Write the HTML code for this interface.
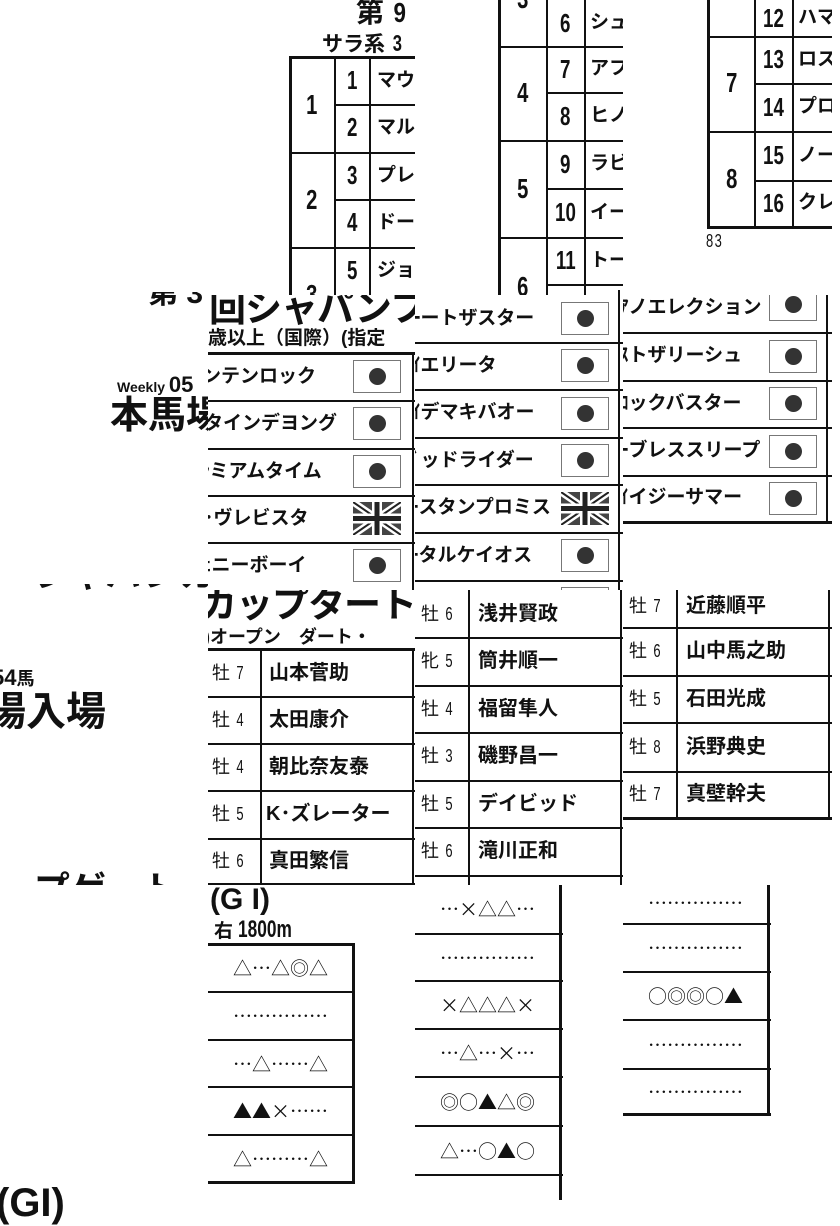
<!DOCTYPE html>
<html><head><meta charset="utf-8">
<style>
*{margin:0;padding:0;box-sizing:border-box}
body{width:840px;height:1200px;background:#fff;position:relative;overflow:hidden;font-family:"Liberation Sans","Noto Sans CJK JP",sans-serif;color:#111}
.t{position:absolute;overflow:hidden}
.h{position:absolute;height:2px;background:#111}
.v{position:absolute;width:2px;background:#111}
.x{position:absolute;font-weight:bold;white-space:nowrap}
.n{position:absolute;font-weight:bold;text-align:center;white-space:nowrap}
.n span,.x span.c{display:inline-block;transform:scaleX(.72)}
.fj{position:absolute;width:48px;height:33px;border:1px solid #777;background:#fff}
.fj::after{content:"";position:absolute;left:15px;top:7px;width:17px;height:17px;border-radius:50%;background:#333}
.m{position:absolute;left:0;width:145px;text-align:center;font-size:19px;letter-spacing:0;white-space:nowrap;font-family:"Noto Sans CJK JP",sans-serif}
</style></head><body>

<!-- T1 -->
<div class="t" style="left:280px;top:0;width:135px;height:295px">
 <div class="x" style="left:76px;top:-4px;font-size:28px;line-height:34px">第 <span class="c" style="transform:scaleX(.8)">9</span></div>
 <div class="x" style="left:42px;top:30px;font-size:21px;line-height:26px">サラ系 <span class="c" style="font-size:23px">3</span></div>
 <div class="v" style="left:9px;top:57px;height:240px;width:3px"></div>
 <div class="v" style="left:54px;top:57px;height:240px"></div>
 <div class="v" style="left:89px;top:57px;height:240px"></div>
 <div class="h" style="left:9px;top:56px;width:130px;height:3px"></div>
 <div class="h" style="left:54px;top:104px;width:90px"></div>
 <div class="h" style="left:9px;top:152px;width:130px"></div>
 <div class="h" style="left:54px;top:199px;width:90px"></div>
 <div class="h" style="left:9px;top:247px;width:130px"></div>
 <div class="n" style="left:10px;width:44px;top:90px;font-size:28px;line-height:30px"><span>1</span></div>
 <div class="n" style="left:10px;width:44px;top:185px;font-size:28px;line-height:30px"><span>2</span></div>
 <div class="n" style="left:10px;width:44px;top:280px;font-size:28px;line-height:30px"><span>3</span></div>
 <div class="n" style="left:55px;width:34px;top:57px;font-size:26px;line-height:47px"><span>1</span></div>
 <div class="n" style="left:55px;width:34px;top:104px;font-size:26px;line-height:47px"><span>2</span></div>
 <div class="n" style="left:55px;width:34px;top:152px;font-size:26px;line-height:47px"><span>3</span></div>
 <div class="n" style="left:55px;width:34px;top:199px;font-size:26px;line-height:47px"><span>4</span></div>
 <div class="n" style="left:55px;width:34px;top:247px;font-size:26px;line-height:47px"><span>5</span></div>
 <div class="x" style="left:97px;top:57px;font-size:19px;line-height:47px">マウ</div>
 <div class="x" style="left:97px;top:104px;font-size:19px;line-height:47px">マル</div>
 <div class="x" style="left:97px;top:152px;font-size:19px;line-height:47px">プレ</div>
 <div class="x" style="left:97px;top:199px;font-size:19px;line-height:47px">ドー</div>
 <div class="x" style="left:97px;top:247px;font-size:19px;line-height:47px">ジョ</div>
</div>

<!-- T2 -->
<div class="t" style="left:490px;top:0;width:133px;height:295px">
 <div class="v" style="left:8px;top:0;height:295px;width:3px"></div>
 <div class="v" style="left:56px;top:0;height:295px"></div>
 <div class="v" style="left:94px;top:0;height:295px"></div>
 <div class="h" style="left:8px;top:46px;width:130px"></div>
 <div class="h" style="left:56px;top:92px;width:80px"></div>
 <div class="h" style="left:8px;top:140px;width:130px"></div>
 <div class="h" style="left:56px;top:188px;width:80px"></div>
 <div class="h" style="left:8px;top:237px;width:130px"></div>
 <div class="h" style="left:56px;top:284px;width:80px"></div>
 <div class="n" style="left:10px;width:46px;top:-16px;font-size:28px;line-height:30px"><span>3</span></div>
 <div class="n" style="left:10px;width:46px;top:78px;font-size:28px;line-height:30px"><span>4</span></div>
 <div class="n" style="left:10px;width:46px;top:174px;font-size:28px;line-height:30px"><span>5</span></div>
 <div class="n" style="left:10px;width:46px;top:272px;font-size:28px;line-height:30px"><span>6</span></div>
 <div class="n" style="left:57px;width:37px;top:0;font-size:26px;line-height:46px"><span>6</span></div>
 <div class="n" style="left:57px;width:37px;top:46px;font-size:26px;line-height:46px"><span>7</span></div>
 <div class="n" style="left:57px;width:37px;top:92px;font-size:26px;line-height:48px"><span>8</span></div>
 <div class="n" style="left:57px;width:37px;top:140px;font-size:26px;line-height:48px"><span>9</span></div>
 <div class="n" style="left:57px;width:37px;top:188px;font-size:26px;line-height:49px"><span>10</span></div>
 <div class="n" style="left:57px;width:37px;top:237px;font-size:26px;line-height:47px"><span>11</span></div>
 <div class="x" style="left:100px;top:0;font-size:19px;line-height:46px">シュ</div>
 <div class="x" style="left:100px;top:46px;font-size:19px;line-height:46px">アフ</div>
 <div class="x" style="left:100px;top:92px;font-size:19px;line-height:48px">ヒノ</div>
 <div class="x" style="left:100px;top:140px;font-size:19px;line-height:48px">ラビ</div>
 <div class="x" style="left:100px;top:188px;font-size:19px;line-height:49px">イー</div>
 <div class="x" style="left:100px;top:237px;font-size:19px;line-height:47px">トー</div>
</div>

<!-- T3 -->
<div class="t" style="left:700px;top:0;width:132px;height:260px">
 <div class="v" style="left:7px;top:0;height:229px;width:3px"></div>
 <div class="v" style="left:54px;top:0;height:229px"></div>
 <div class="v" style="left:92px;top:0;height:229px"></div>
 <div class="h" style="left:7px;top:36px;width:130px"></div>
 <div class="h" style="left:54px;top:83px;width:80px"></div>
 <div class="h" style="left:7px;top:131px;width:130px"></div>
 <div class="h" style="left:54px;top:180px;width:80px"></div>
 <div class="h" style="left:7px;top:226px;width:130px;height:3px"></div>
 <div class="n" style="left:10px;width:44px;top:68px;font-size:28px;line-height:30px"><span>7</span></div>
 <div class="n" style="left:10px;width:44px;top:164px;font-size:28px;line-height:30px"><span>8</span></div>
 <div class="n" style="left:55px;width:37px;top:0;font-size:26px;line-height:36px"><span>12</span></div>
 <div class="n" style="left:55px;width:37px;top:36px;font-size:26px;line-height:47px"><span>13</span></div>
 <div class="n" style="left:55px;width:37px;top:83px;font-size:26px;line-height:48px"><span>14</span></div>
 <div class="n" style="left:55px;width:37px;top:131px;font-size:26px;line-height:49px"><span>15</span></div>
 <div class="n" style="left:55px;width:37px;top:180px;font-size:26px;line-height:46px"><span>16</span></div>
 <div class="x" style="left:98px;top:0;font-size:19px;line-height:36px">ハマ</div>
 <div class="x" style="left:98px;top:36px;font-size:19px;line-height:47px">ロス</div>
 <div class="x" style="left:98px;top:83px;font-size:19px;line-height:48px">プロ</div>
 <div class="x" style="left:98px;top:131px;font-size:19px;line-height:49px">ノー</div>
 <div class="x" style="left:98px;top:180px;font-size:19px;line-height:46px">クレ</div>
 <div class="x" style="left:6px;top:231px;font-size:18px;font-weight:normal;letter-spacing:2px"><span class="c" style="transform-origin:left">83</span></div>
</div>

<!-- left row2 text -->
<div class="t" style="left:0;top:292px;width:208px;height:293px">
 <div class="x" style="left:148px;top:-24px;font-size:30px">第 3</div>
 <div class="x" style="left:117px;top:80px;font-size:14px">Weekly <span style="font-size:22px">05</span></div>
 <div class="x" style="left:110px;top:102px;font-size:38px;line-height:44px">本馬場</div>
</div>

<!-- T4 -->
<div class="t" style="left:208px;top:295px;width:207px;height:295px">
 <div class="x" style="left:1px;top:-8px;font-size:37px;line-height:44px;letter-spacing:-1px">回シャパンフ</div>
 <div class="x" style="left:0;top:33px;font-size:19px;line-height:22px">歳以上（国際）(指定</div>
 <div class="h" style="left:0;top:57px;width:207px;height:3px"></div>
 <div class="h" style="left:0;top:105px;width:207px"></div>
 <div class="h" style="left:0;top:153px;width:207px"></div>
 <div class="h" style="left:0;top:200px;width:207px"></div>
 <div class="h" style="left:0;top:247px;width:207px"></div>
 <div class="v" style="left:204px;top:58px;height:240px"></div>
 <div class="x" style="left:-6px;top:58px;font-size:19px;line-height:47px">ンテンロック</div>
 <div class="x" style="left:-4px;top:105px;font-size:19px;line-height:48px">タインデヨング</div>
 <div class="x" style="left:-8px;top:153px;font-size:19px;line-height:47px">ｼミアムタイム</div>
 <div class="x" style="left:-4px;top:200px;font-size:19px;line-height:47px">･ヴレビスタ</div>
 <div class="x" style="left:-6px;top:247px;font-size:19px;line-height:47px">ｪニーボーイ</div>
 <div class="fj" style="left:145px;top:65px"></div>
 <div class="fj" style="left:145px;top:112px"></div>
 <div class="fj" style="left:145px;top:160px"></div>
 <svg style="position:absolute;left:145px;top:207px" width="48" height="33" viewBox="0 0 48 33"><rect width="48" height="33" fill="#444"/><path d="M0 0L48 33M48 0L0 33" stroke="#fff" stroke-width="7"/><path d="M0 0L48 33M48 0L0 33" stroke="#222" stroke-width="2"/><path d="M24 0V33M0 16.5H48" stroke="#fff" stroke-width="10"/><path d="M24 0V33M0 16.5H48" stroke="#222" stroke-width="5"/></svg>
 <div class="fj" style="left:145px;top:254px"></div>
</div>

<!-- T5 -->
<div class="t" style="left:415px;top:290px;width:208px;height:300px">
 <div class="h" style="left:0;top:52px;width:208px"></div>
 <div class="h" style="left:0;top:99px;width:208px"></div>
 <div class="h" style="left:0;top:147px;width:208px"></div>
 <div class="h" style="left:0;top:194px;width:208px"></div>
 <div class="h" style="left:0;top:242px;width:208px"></div>
 <div class="h" style="left:0;top:290px;width:208px"></div>
 <div class="v" style="left:203px;top:0;height:300px"></div>
 <div class="x" style="left:-4px;top:5px;font-size:19px;line-height:47px">ｰートザスター</div>
 <div class="x" style="left:-4px;top:52px;font-size:19px;line-height:47px">ｲエリータ</div>
 <div class="x" style="left:-4px;top:99px;font-size:19px;line-height:48px">ｲデマキバオー</div>
 <div class="x" style="left:-4px;top:147px;font-size:19px;line-height:47px">ﾞッドライダー</div>
 <div class="x" style="left:-6px;top:194px;font-size:19px;line-height:48px">ｰスタンプロミス</div>
 <div class="x" style="left:-6px;top:242px;font-size:19px;line-height:48px">ｰタルケイオス</div>
 <div class="fj" style="left:146px;top:12px"></div>
 <div class="fj" style="left:146px;top:59px"></div>
 <div class="fj" style="left:146px;top:107px"></div>
 <div class="fj" style="left:146px;top:154px"></div>
 <svg style="position:absolute;left:146px;top:202px" width="48" height="33" viewBox="0 0 48 33"><rect width="48" height="33" fill="#444"/><path d="M0 0L48 33M48 0L0 33" stroke="#fff" stroke-width="7"/><path d="M0 0L48 33M48 0L0 33" stroke="#222" stroke-width="2"/><path d="M24 0V33M0 16.5H48" stroke="#fff" stroke-width="10"/><path d="M24 0V33M0 16.5H48" stroke="#222" stroke-width="5"/></svg>
 <div class="fj" style="left:146px;top:249px"></div>
 <div class="fj" style="left:146px;top:297px"></div>
</div>

<!-- T6 -->
<div class="t" style="left:623px;top:295px;width:209px;height:234px">
 <div class="h" style="left:0;top:37px;width:209px"></div>
 <div class="h" style="left:0;top:85px;width:209px"></div>
 <div class="h" style="left:0;top:132px;width:209px"></div>
 <div class="h" style="left:0;top:180px;width:209px"></div>
 <div class="h" style="left:0;top:226px;width:209px;height:3px"></div>
 <div class="v" style="left:203px;top:0;height:229px"></div>
 <div class="x" style="left:-4px;top:-2px;font-size:19px;line-height:30px">ｱノエレクション</div>
 <div class="x" style="left:-4px;top:37px;font-size:19px;line-height:48px">ｽトザリーシュ</div>
 <div class="x" style="left:-4px;top:85px;font-size:19px;line-height:47px">ﾛックバスター</div>
 <div class="x" style="left:-4px;top:132px;font-size:19px;line-height:48px">ｰブレススリープ</div>
 <div class="x" style="left:-4px;top:180px;font-size:19px;line-height:46px">ｲイジーサマー</div>
 <div class="fj" style="left:146px;top:-7px"></div>
 <div class="fj" style="left:146px;top:45px"></div>
 <div class="fj" style="left:146px;top:92px"></div>
 <div class="fj" style="left:146px;top:140px"></div>
 <div class="fj" style="left:146px;top:187px"></div>
</div>

<!-- left row3 text -->
<div class="t" style="left:0;top:584px;width:208px;height:301px">
 <div class="x" style="left:0;top:-30px;font-size:36px;line-height:40px">ージャパンカッ</div>
 <div class="x" style="left:-8px;top:81px;font-size:22px;line-height:26px">54<span style="font-size:18px">馬</span></div>
 <div class="x" style="left:-14px;top:105px;font-size:40px;line-height:46px">場入場</div>
 <div class="x" style="left:0;top:286px;font-size:36px;line-height:40px">ープゲート</div>
</div>

<!-- T7 -->
<div class="t" style="left:208px;top:590px;width:207px;height:295px">
 <div class="x" style="left:-8px;top:-6px;font-size:37px;line-height:42px;letter-spacing:-1px">カップタート</div>
 <div class="x" style="left:-4px;top:36px;font-size:18px;line-height:22px">)オープン　ダート・</div>
 <div class="h" style="left:0;top:58px;width:207px;height:3px"></div>
 <div class="h" style="left:0;top:106px;width:207px"></div>
 <div class="h" style="left:0;top:153px;width:207px"></div>
 <div class="h" style="left:0;top:200px;width:207px"></div>
 <div class="h" style="left:0;top:248px;width:207px"></div>
 <div class="h" style="left:0;top:293px;width:207px"></div>
 <div class="v" style="left:52px;top:60px;height:235px"></div>
 <div class="v" style="left:204px;top:60px;height:235px"></div>
 <div class="x" style="left:4px;top:60px;font-size:18px;line-height:46px;font-weight:normal">牡 <span class="c">7</span></div>
 <div class="x" style="left:4px;top:107px;font-size:18px;line-height:46px;font-weight:normal">牡 <span class="c">4</span></div>
 <div class="x" style="left:4px;top:154px;font-size:18px;line-height:46px;font-weight:normal">牡 <span class="c">4</span></div>
 <div class="x" style="left:4px;top:201px;font-size:18px;line-height:47px;font-weight:normal">牡 <span class="c">5</span></div>
 <div class="x" style="left:4px;top:249px;font-size:18px;line-height:45px;font-weight:normal">牡 <span class="c">6</span></div>
 <div class="x" style="left:61px;top:60px;font-size:20px;line-height:46px">山本菅助</div>
 <div class="x" style="left:61px;top:107px;font-size:20px;line-height:46px">太田康介</div>
 <div class="x" style="left:61px;top:154px;font-size:20px;line-height:46px">朝比奈友泰</div>
 <div class="x" style="left:58px;top:201px;font-size:20px;line-height:47px">K･ズレーター</div>
 <div class="x" style="left:61px;top:249px;font-size:20px;line-height:45px">真田繁信</div>
</div>

<!-- T8 -->
<div class="t" style="left:415px;top:590px;width:208px;height:295px">
 <div class="h" style="left:0;top:47px;width:208px"></div>
 <div class="h" style="left:0;top:95px;width:208px"></div>
 <div class="h" style="left:0;top:142px;width:208px"></div>
 <div class="h" style="left:0;top:190px;width:208px"></div>
 <div class="h" style="left:0;top:237px;width:208px"></div>
 <div class="h" style="left:0;top:285px;width:208px"></div>
 <div class="v" style="left:53px;top:0;height:295px"></div>
 <div class="v" style="left:205px;top:0;height:295px"></div>
 <div class="x" style="left:6px;top:0;font-size:18px;line-height:48px;font-weight:normal">牡 <span class="c">6</span></div>
 <div class="x" style="left:6px;top:48px;font-size:18px;line-height:47px;font-weight:normal">牝 <span class="c">5</span></div>
 <div class="x" style="left:6px;top:96px;font-size:18px;line-height:47px;font-weight:normal">牡 <span class="c">4</span></div>
 <div class="x" style="left:6px;top:143px;font-size:18px;line-height:47px;font-weight:normal">牡 <span class="c">3</span></div>
 <div class="x" style="left:6px;top:191px;font-size:18px;line-height:47px;font-weight:normal">牡 <span class="c">5</span></div>
 <div class="x" style="left:6px;top:238px;font-size:18px;line-height:47px;font-weight:normal">牡 <span class="c">6</span></div>
 <div class="x" style="left:63px;top:0;font-size:20px;line-height:48px">浅井賢政</div>
 <div class="x" style="left:63px;top:48px;font-size:20px;line-height:47px">筒井順一</div>
 <div class="x" style="left:63px;top:96px;font-size:20px;line-height:47px">福留隼人</div>
 <div class="x" style="left:63px;top:143px;font-size:20px;line-height:47px">磯野昌一</div>
 <div class="x" style="left:63px;top:191px;font-size:20px;line-height:47px">デイビッド</div>
 <div class="x" style="left:63px;top:238px;font-size:20px;line-height:47px">滝川正和</div>
</div>

<!-- T9 -->
<div class="t" style="left:623px;top:590px;width:209px;height:232px">
 <div class="h" style="left:0;top:37px;width:209px"></div>
 <div class="h" style="left:0;top:85px;width:209px"></div>
 <div class="h" style="left:0;top:132px;width:209px"></div>
 <div class="h" style="left:0;top:181px;width:209px"></div>
 <div class="h" style="left:0;top:227px;width:209px;height:3px"></div>
 <div class="v" style="left:53px;top:0;height:229px"></div>
 <div class="v" style="left:205px;top:0;height:229px"></div>
 <div class="x" style="left:6px;top:0;font-size:18px;line-height:32px;font-weight:normal">牡 <span class="c">7</span></div>
 <div class="x" style="left:6px;top:38px;font-size:18px;line-height:47px;font-weight:normal">牡 <span class="c">6</span></div>
 <div class="x" style="left:6px;top:86px;font-size:18px;line-height:46px;font-weight:normal">牡 <span class="c">5</span></div>
 <div class="x" style="left:6px;top:133px;font-size:18px;line-height:48px;font-weight:normal">牡 <span class="c">8</span></div>
 <div class="x" style="left:6px;top:182px;font-size:18px;line-height:45px;font-weight:normal">牡 <span class="c">7</span></div>
 <div class="x" style="left:63px;top:0;font-size:20px;line-height:32px">近藤順平</div>
 <div class="x" style="left:63px;top:38px;font-size:20px;line-height:47px">山中馬之助</div>
 <div class="x" style="left:63px;top:86px;font-size:20px;line-height:46px">石田光成</div>
 <div class="x" style="left:63px;top:133px;font-size:20px;line-height:48px">浜野典史</div>
 <div class="x" style="left:63px;top:182px;font-size:20px;line-height:45px">真壁幹夫</div>
</div>

<!-- bottom-left text -->
<div class="x" style="left:-4px;top:1180px;font-size:40px;line-height:46px;font-family:'Liberation Sans',sans-serif">(GI)</div>

<!-- T10 -->
<div class="t" style="left:208px;top:885px;width:147px;height:315px">
 <div class="x" style="left:2px;top:-2px;font-size:30px;line-height:34px">(G I)</div>
 <div class="x" style="left:6px;top:33px;font-size:19px;line-height:24px">右 <span class="c" style="transform-origin:left;font-size:24px">1800m</span></div>
 <div class="h" style="left:0;top:58px;width:147px;height:3px"></div>
 <div class="h" style="left:0;top:106px;width:147px"></div>
 <div class="h" style="left:0;top:154px;width:147px"></div>
 <div class="h" style="left:0;top:201px;width:147px"></div>
 <div class="h" style="left:0;top:249px;width:147px"></div>
 <div class="h" style="left:0;top:296px;width:147px;height:3px"></div>
 <div class="v" style="left:144px;top:58px;height:241px;width:3px"></div>
 <div class="m" style="top:60px;line-height:46px">△…△◎△</div>
 <div class="m" style="top:108px;line-height:46px">……………</div>
 <div class="m" style="top:156px;line-height:45px">…△……△</div>
 <div class="m" style="top:203px;line-height:46px">▲▲×……</div>
 <div class="m" style="top:251px;line-height:45px">△………△</div>
</div>

<!-- T11 -->
<div class="t" style="left:415px;top:885px;width:148px;height:315px">
 <div class="h" style="left:0;top:48px;width:148px"></div>
 <div class="h" style="left:0;top:95px;width:148px"></div>
 <div class="h" style="left:0;top:143px;width:148px"></div>
 <div class="h" style="left:0;top:191px;width:148px"></div>
 <div class="h" style="left:0;top:240px;width:148px"></div>
 <div class="h" style="left:0;top:289px;width:148px"></div>
 <div class="v" style="left:144px;top:0;height:315px;width:3px"></div>
 <div class="m" style="top:0;line-height:48px">…×△△…</div>
 <div class="m" style="top:50px;line-height:45px">……………</div>
 <div class="m" style="top:97px;line-height:46px">×△△△×</div>
 <div class="m" style="top:145px;line-height:46px">…△…×…</div>
 <div class="m" style="top:193px;line-height:47px">◎○▲△◎</div>
 <div class="m" style="top:242px;line-height:47px">△…○▲○</div>
</div>

<!-- T12 -->
<div class="t" style="left:623px;top:885px;width:148px;height:235px">
 <div class="h" style="left:0;top:38px;width:148px"></div>
 <div class="h" style="left:0;top:86px;width:148px"></div>
 <div class="h" style="left:0;top:134px;width:148px"></div>
 <div class="h" style="left:0;top:183px;width:148px"></div>
 <div class="h" style="left:0;top:228px;width:148px;height:3px"></div>
 <div class="v" style="left:144px;top:0;height:231px;width:3px"></div>
 <div class="m" style="top:0;line-height:36px">……………</div>
 <div class="m" style="top:40px;line-height:46px">……………</div>
 <div class="m" style="top:88px;line-height:46px">○◎◎○▲</div>
 <div class="m" style="top:136px;line-height:47px">……………</div>
 <div class="m" style="top:185px;line-height:43px">……………</div>
</div>

</body></html>
